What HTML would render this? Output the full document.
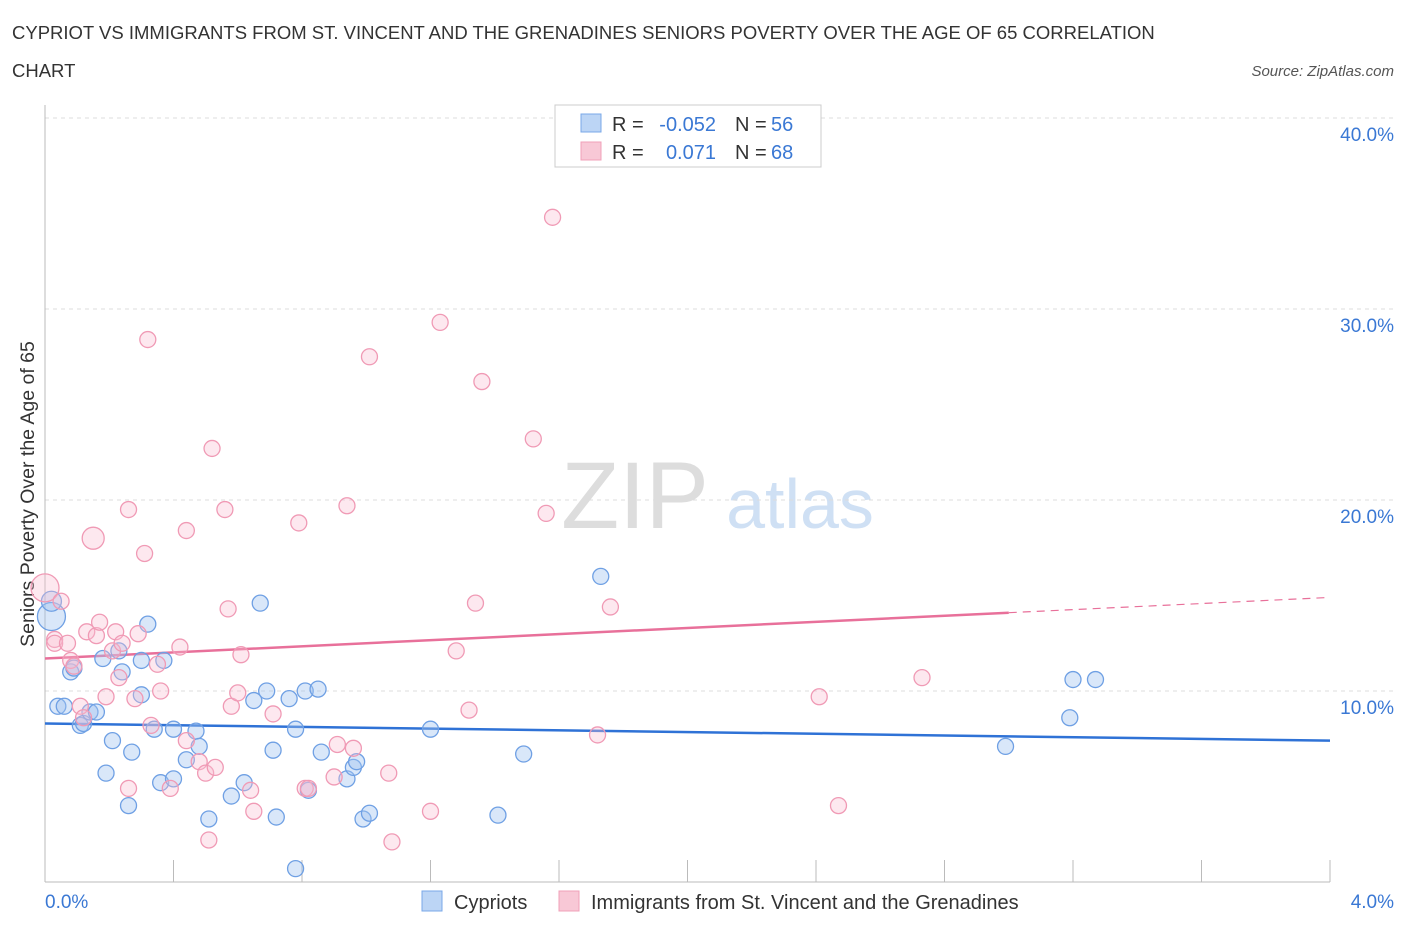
<!DOCTYPE html>
<html><head><meta charset="utf-8"><style>
body{margin:0;background:#fff;font-family:"Liberation Sans",sans-serif;}
svg text{font-family:"Liberation Sans",sans-serif;}
</style></head><body>
<svg id="chart" width="1406" height="930">
<text x="12" y="39" font-size="18.5" fill="#333">CYPRIOT VS IMMIGRANTS FROM ST. VINCENT AND THE GRENADINES SENIORS POVERTY OVER THE AGE OF 65 CORRELATION</text>
<text x="12" y="77" font-size="18.5" fill="#333">CHART</text>
<text x="1394" y="76" font-size="15" fill="#555" font-style="italic" text-anchor="end">Source: ZipAtlas.com</text>
<text x="34" y="494" font-size="19.5" fill="#333" text-anchor="middle" transform="rotate(-90 34 494)">Seniors Poverty Over the Age of 65</text>
<text x="635" y="528" font-size="95" fill="#ddd" text-anchor="middle" font-family="Liberation Serif">ZIP</text>
<text x="800" y="528" font-size="70" fill="#cfe0f4" text-anchor="middle">atlas</text>
<g id="grid"></g><g id="axes"></g><g id="lines"></g><g id="pts"></g>
<g>
<rect x="555" y="105" width="266" height="62" fill="#fff" stroke="#ccc"/>
<rect x="581" y="114" width="20" height="18" fill="#bcd5f5" stroke="#7aa8e8"/>
<rect x="581" y="142" width="20" height="18" fill="#f8c8d6" stroke="#f0a0b8"/>
<text x="612" y="131" font-size="20" fill="#333">R =</text>
<text x="716" y="131" font-size="20" fill="#3a78d4" text-anchor="end">-0.052</text>
<text x="735" y="131" font-size="20" fill="#333">N =</text>
<text x="771" y="131" font-size="20" fill="#3a78d4">56</text>
<text x="612" y="159" font-size="20" fill="#333">R =</text>
<text x="716" y="159" font-size="20" fill="#3a78d4" text-anchor="end">0.071</text>
<text x="735" y="159" font-size="20" fill="#333">N =</text>
<text x="771" y="159" font-size="20" fill="#3a78d4">68</text>
</g>
<g>
<rect x="422" y="891" width="20" height="20" fill="#bcd5f5" stroke="#7aa8e8"/>
<text x="454" y="909" font-size="20" fill="#333">Cypriots</text>
<rect x="559" y="891" width="20" height="20" fill="#f8c8d6" stroke="#f0a0b8"/>
<text x="591" y="909" font-size="20" fill="#333">Immigrants from St. Vincent and the Grenadines</text>
</g>
</svg>
<script>
const yTicks=[10,20,30,40];
const xTickLabels=["0.0%","4.0%"];
const blueX=[0.02,0.02,0.04,0.06,0.08,0.09,0.11,0.12,0.14,0.16,0.18,0.19,0.21,0.23,0.24,0.26,0.27,0.30,0.30,0.32,0.34,0.36,0.37,0.40,0.40,0.44,0.47,0.48,0.51,0.58,0.62,0.65,0.67,0.69,0.71,0.72,0.76,0.78,0.78,0.81,0.82,0.85,0.86,0.94,0.96,0.97,0.99,1.01,1.20,1.41,1.49,1.73,2.99,3.19,3.20,3.27];
const blueY=[13.9,14.7,9.2,9.2,11.0,11.2,8.2,8.3,8.9,8.9,11.7,5.7,7.4,12.1,11.0,4.0,6.8,9.8,11.6,13.5,8.0,5.2,11.6,8.0,5.4,6.4,7.9,7.1,3.3,4.5,5.2,9.5,14.6,10.0,6.9,3.4,9.6,8.0,0.7,10.0,4.8,10.1,6.8,5.4,6.0,6.3,3.3,3.6,8.0,3.5,6.7,16.0,7.1,8.6,10.6,10.6];
const blueR=[14,10,8,8,8,8,8,8,8,8,8,8,8,8,8,8,8,8,8,8,8,8,8,8,8,8,8,8,8,8,8,8,8,8,8,8,8,8,8,8,8,8,8,8,8,8,8,8,8,8,8,8,8,8,8,8];
const pinkX=[0.00,0.03,0.03,0.05,0.07,0.08,0.09,0.11,0.12,0.13,0.16,0.17,0.19,0.21,0.22,0.23,0.24,0.26,0.26,0.28,0.29,0.31,0.32,0.33,0.35,0.36,0.39,0.42,0.44,0.44,0.48,0.50,0.52,0.51,0.53,0.56,0.57,0.58,0.60,0.61,0.64,0.65,0.71,0.79,0.81,0.82,0.90,0.91,0.94,0.96,1.01,1.07,1.08,1.20,1.23,1.28,1.32,1.34,1.36,1.52,1.56,1.58,1.72,1.76,2.41,2.47,2.73,0.15];
const pinkY=[15.4,12.7,12.5,14.7,12.5,11.6,11.3,9.2,8.6,13.1,12.9,13.6,9.7,12.1,13.1,10.7,12.5,19.5,4.9,9.6,13.0,17.2,28.4,8.2,11.4,10.0,4.9,12.3,18.4,7.4,6.3,5.7,22.7,2.2,6.0,19.5,14.3,9.2,9.9,11.9,4.8,3.7,8.8,18.8,4.9,4.9,5.5,7.2,19.7,7.0,27.5,5.7,2.1,3.7,29.3,12.1,9.0,14.6,26.2,23.2,19.3,34.8,7.7,14.4,9.7,4.0,10.7,18.0];
const pinkR=[14,8,8,8,8,8,8,8,8,8,8,8,8,8,8,8,8,8,8,8,8,8,8,8,8,8,8,8,8,8,8,8,8,8,8,8,8,8,8,8,8,8,8,8,8,8,8,8,8,8,8,8,8,8,8,8,8,8,8,8,8,8,8,8,8,8,8,11];
const blueTrend=[8.3,7.4];
const pinkTrend=[11.7,14.9];
const X0=45,X1=1330,YB=882,PPY=19.1;
const sx=v=>X0+(X1-X0)*v/4;
const sy=v=>YB-v*PPY;
const NS="http://www.w3.org/2000/svg";
function mk(tag,attrs,parent){const e=document.createElementNS(NS,tag);for(const k in attrs)e.setAttribute(k,attrs[k]);document.getElementById(parent).appendChild(e);return e;}
yTicks.forEach(t=>{
  const l=mk('line',{x1:X0,x2:1394,y1:sy(t),y2:sy(t),stroke:'#ddd','stroke-dasharray':'4,4'},'grid');
  
  
  const tx=mk('text',{x:1394,y:sy(t)+23,'font-size':19,fill:'#3a78d4','text-anchor':'end'},'grid');
  tx.textContent=t.toFixed(1)+'%';
  
  
});
const ax=mk('line',{x1:X0,x2:X0,y1:105,y2:YB,stroke:'#bbb'},'axes');


const bx=mk('line',{x1:X0,x2:X1,y1:YB,y2:YB,stroke:'#bbb'},'axes');


for(let i=0;i<=10;i++){const tk=mk('line',{x1:sx(i*0.4),x2:sx(i*0.4),y1:860,y2:YB,stroke:'#bbb'},'axes');

}
[[X0,'start'],[1394,'end']].forEach((p,i)=>{const t=mk('text',{x:p[0],y:908,'font-size':19,fill:'#3a78d4','text-anchor':p[1]},'axes');t.textContent=xTickLabels[i];

});
function pts(xs,ys,rs,fill,stroke,name){xs.forEach((x,i)=>{const c=mk('circle',{cx:sx(x),cy:sy(ys[i]),r:rs[i],fill:fill,stroke:stroke,'stroke-width':1.3},'pts');

});}
pts(blueX,blueY,blueR,'rgba(160,196,240,0.4)','#6fa0e4','cypriot-point');
pts(pinkX,pinkY,pinkR,'rgba(248,190,210,0.35)','#f09ab5','immigrant-point');
const bl=mk('line',{x1:sx(0),y1:sy(blueTrend[0]),x2:sx(4),y2:sy(blueTrend[1]),stroke:'#2f72d6','stroke-width':2.5},'lines');


const pm=v=>pinkTrend[0]+(pinkTrend[1]-pinkTrend[0])*v/4;
const pl=mk('line',{x1:sx(0),y1:sy(pinkTrend[0]),x2:sx(3),y2:sy(pm(3)),stroke:'#e8709a','stroke-width':2.5},'lines');


const pd=mk('line',{x1:sx(3),y1:sy(pm(3)),x2:sx(4),y2:sy(pinkTrend[1]),stroke:'#e8709a','stroke-width':1.2,'stroke-dasharray':'8,6'},'lines');


</script>
</body></html>
